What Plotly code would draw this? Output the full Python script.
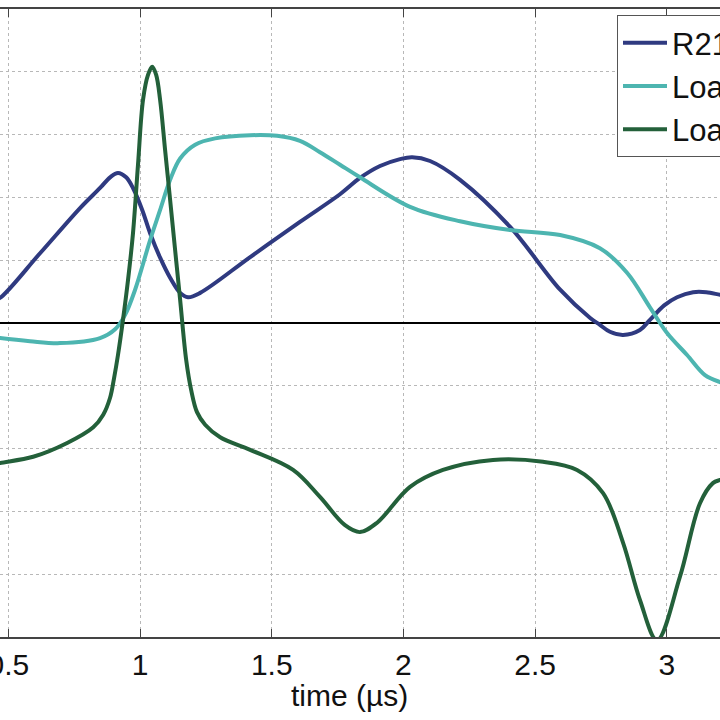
import plotly.graph_objects as go

# R21 (navy)
t_r2 = [0.45, 0.468, 0.620, 0.772, 0.848, 0.886, 0.916, 0.947, 0.973, 1.008, 1.038, 1.076, 1.114, 1.152, 1.182,
        1.228, 1.418, 1.607, 1.759, 1.835, 1.911, 1.987, 2.033, 2.101, 2.215, 2.405, 2.595, 2.709,
        2.746, 2.784, 2.834, 2.898, 2.936, 2.990, 3.039, 3.100, 3.150, 3.202, 3.22]
y_r2 = [0.38, 0.40, 1.11, 1.83, 2.15, 2.32, 2.39, 2.32, 2.15, 1.80, 1.43, 1.04, 0.72, 0.48, 0.41,
        0.48, 1.05, 1.61, 2.05, 2.31, 2.50, 2.61, 2.64, 2.58, 2.28, 1.53, 0.53, 0.08,
        -0.03, -0.14, -0.19, -0.11, 0.05, 0.28, 0.41, 0.49, 0.49, 0.45, 0.44]

# Load 1 (cyan)
t_l1 = [0.45, 0.468, 0.582, 0.696, 0.848, 0.905, 0.943, 0.981, 1.038, 1.076, 1.114, 1.152, 1.209, 1.285,
        1.418, 1.520, 1.607, 1.683, 1.759, 1.835, 2.025, 2.215, 2.405, 2.595, 2.746, 2.849, 2.936,
        3.001, 3.077, 3.145, 3.202, 3.22]
y_l1 = [-0.23, -0.24, -0.29, -0.32, -0.24, -0.10, 0.13, 0.53, 1.32, 1.80, 2.28, 2.62, 2.84, 2.94,
        2.99, 2.98, 2.90, 2.72, 2.52, 2.32, 1.85, 1.62, 1.48, 1.40, 1.19, 0.80, 0.25,
        -0.16, -0.51, -0.83, -0.94, -0.96]

# Load 2 (green)
t_l2 = [0.45, 0.468, 0.594, 0.723, 0.822, 0.860, 0.886, 0.901, 0.916, 0.935, 0.954, 0.973, 0.992, 1.011, 1.030,
        1.046, 1.061, 1.076, 1.095, 1.114, 1.133, 1.152, 1.175, 1.194, 1.216, 1.247, 1.304, 1.418, 1.581,
        1.683, 1.778, 1.835, 1.900, 2.025, 2.150, 2.340, 2.530, 2.659, 2.758, 2.834, 2.898, 2.963,
        3.050, 3.126, 3.175, 3.202, 3.22]
y_l2 = [-2.25, -2.23, -2.13, -1.91, -1.66, -1.46, -1.19, -0.88, -0.51, 0.05, 0.68, 1.43, 2.52, 3.55, 3.95,
        4.08, 3.95, 3.55, 2.75, 1.96, 1.16, 0.37, -0.59, -1.07, -1.42, -1.62, -1.82, -2.02, -2.34,
        -2.77, -3.22, -3.33, -3.18, -2.61, -2.34, -2.18, -2.21, -2.34, -2.71, -3.50, -4.41, -5.05,
        -4.04, -2.87, -2.55, -2.50, -2.48]

names = ["R21", "Load 1", "Load 2"]
colors = ["#2f3a80", "#4db5b0", "#23603a"]
x_ticks = [0.5, 1, 1.5, 2, 2.5, 3]
x_tick_text = ["0.5", "1", "1.5", "2", "2.5", "3"]

fig = go.Figure()
for t, y, n, c in zip([t_r2, t_l1, t_l2], [y_r2, y_l1, y_l2], names, colors):
    fig.add_trace(go.Scatter(x=t, y=y, name=n, mode="lines",
                             line=dict(color=c, width=4, shape="spline", smoothing=1.0)))

font = "Liberation Sans, Arial, sans-serif"
fig.update_layout(
    width=720, height=720,
    margin=dict(l=0, r=0, t=9, b=83, autoexpand=False),
    paper_bgcolor="white", plot_bgcolor="white",
    font=dict(family=font, size=30, color="#111"),
    showlegend=True,
    legend=dict(x=617/720, y=(637-15)/628, xanchor="left", yanchor="top",
                bgcolor="white", bordercolor="#555", borderwidth=1,
                font=dict(size=31, family=font, color="#111"),
                itemwidth=44, tracegroupgap=0),
    xaxis=dict(range=[0.468, 3.202], tickvals=x_ticks, ticktext=x_tick_text,
               showgrid=True, gridcolor="#b8b8b8", griddash="dot", gridwidth=1,
               showline=True, linecolor="#444", linewidth=1.5, mirror="allticks",
               ticks="inside", ticklen=8, tickcolor="#444", zeroline=False,
               ticklabeloverflow="allow",
               tickfont=dict(size=30, family=font, color="#111")),
    yaxis=dict(range=[-5, 5], dtick=1, showticklabels=False, showgrid=True,
               gridcolor="#b8b8b8", griddash="dot", gridwidth=1, showline=False,
               zeroline=True, zerolinecolor="black", zerolinewidth=2, ticks=""),
    annotations=[dict(text="time (µs)", xref="paper", yref="paper", x=349/720, y=0,
                      yshift=-58, xanchor="center", yanchor="middle", showarrow=False,
                      font=dict(size=30, family=font, color="#111"))],
)
fig.write_html("out.html")
